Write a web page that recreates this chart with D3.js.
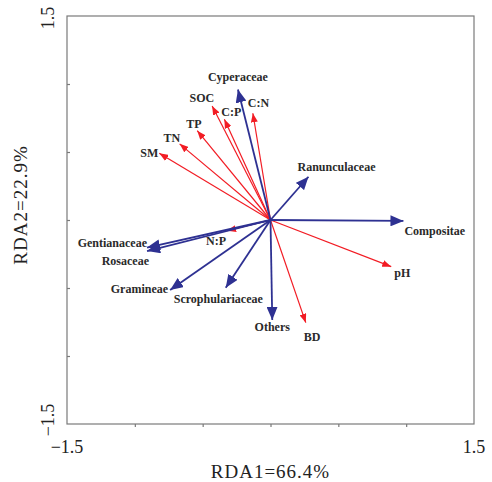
<!DOCTYPE html>
<html>
<head>
<meta charset="utf-8">
<script src="https://cdn.jsdelivr.net/npm/d3@7"></script>
<style>
  body { margin: 0; background: #fff; }
  svg { display: block; }
</style>
</head>
<body>
<div id="chart"></div>
<script>
// soil / environment variables (red arrows)
const envNames = ['SOC', 'C:P', 'C:N', 'TP', 'TN', 'SM', 'N:P', 'pH', 'BD'];
const envRDA1 = [-0.43, -0.34, -0.13, -0.54, -0.67, -0.82, -0.32, 0.89, 0.26];
const envRDA2 = [0.838, 0.74, 0.785, 0.657, 0.56, 0.49, -0.079, -0.343, -0.755];

// plant families (blue arrows)
const spNames = ['Cyperaceae', 'Ranunculaceae', 'Compositae', 'Others', 'Scrophulariaceae',
                 'Gramineae', 'Gentianaceae', 'Rosaceae'];
const spRDA1 = [-0.24, 0.28, 0.98, 0.013, -0.33, -0.74, -0.91, -0.91];
const spRDA2 = [0.96, 0.318, -0.007, -0.735, -0.498, -0.515, -0.203, -0.228];

const axisTicks = [-1, -0.5, 0, 0.5, 1];
const axisDomain = [-1.5, 1.5];
const xTitle = 'RDA1=66.4%';
const yTitle = 'RDA2=22.9%';

// label placement relative to arrow tip (px): [dx, dy, anchor]
const labelPos = {
    'SOC': [2, -4, 'end'], 'C:P': [-3, -3, 'start'], 'C:N': [-5, -6, 'start'],
    'TP': [-11, -3, 'start'], 'TN': [-16, -2, 'start'], 'SM': [-19, 4, 'start'],
    'N:P': [-21, 14, 'start'], 'pH': [3, 10, 'start'], 'BD': [-2, 18, 'start'],
    'Cyperaceae': [0, -8, 'middle'], 'Ranunculaceae': [-11, -6, 'start'],
    'Compositae': [1, 14, 'start'], 'Others': [0, 11, 'middle'],
    'Scrophulariaceae': [-52, 15, 'start'], 'Gramineae': [-2, 3, 'end'],
    'Gentianaceae': [0, -1, 'end'], 'Rosaceae': [2, 14, 'end']
};

const W = 492, H = 482;
const RED = '#f21c24', BLUE = '#2e3192';

const svg = d3.select('#chart').append('svg')
    .attr('width', W).attr('height', H);

const x = d3.scaleLinear().domain(axisDomain).range([67, 474]);
const y = d3.scaleLinear().domain(axisDomain).range([424, 16]);

// arrow heads
const defs = svg.append('defs');
function head(id, color, len, wid) {
    defs.append('marker')
        .attr('id', id)
        .attr('markerUnits', 'userSpaceOnUse')
        .attr('viewBox', `0 ${-wid / 2} ${len} ${wid}`)
        .attr('refX', len).attr('refY', 0)
        .attr('markerWidth', len).attr('markerHeight', wid)
        .attr('orient', 'auto')
        .append('path')
        .attr('d', `M0,${-wid / 2}L${len},0L0,${wid / 2}Z`)
        .attr('fill', color);
}
head('hr', RED, 9, 7);
head('hb', BLUE, 13, 11);

// frame
svg.append('rect')
    .attr('x', x(-1.5)).attr('y', y(1.5))
    .attr('width', x(1.5) - x(-1.5)).attr('height', y(-1.5) - y(1.5))
    .attr('fill', 'none').attr('stroke', '#7a7a7a').attr('stroke-width', 1.2);

const gx = svg.append('g')
    .attr('transform', `translate(0,${y(-1.5)})`)
    .call(d3.axisBottom(x).tickValues(axisTicks).tickSizeInner(3).tickSizeOuter(0).tickFormat(''));
const gy = svg.append('g')
    .attr('transform', `translate(${x(-1.5)},0)`)
    .call(d3.axisLeft(y).tickValues(axisTicks).tickSizeInner(-3).tickSizeOuter(0).tickFormat(''));
[gx, gy].forEach(g => {
    g.select('.domain').remove();
    g.selectAll('line').attr('stroke', '#7a7a7a').attr('stroke-width', 1.2);
});

// tick labels at the ends
const serif = '"Liberation Serif", "Times New Roman", serif';
svg.append('text').attr('x', x(-1.5)).attr('y', 453)
    .attr('text-anchor', 'middle').style('font', `18px ${serif}`).attr('fill', '#222')
    .text('\u22121.5');
svg.append('text').attr('x', x(1.5)).attr('y', 453)
    .attr('text-anchor', 'middle').style('font', `18px ${serif}`).attr('fill', '#222')
    .text('1.5');
svg.append('text').attr('transform', `translate(54,${y(1.5) + 2}) rotate(-90)`)
    .attr('text-anchor', 'middle').style('font', `18px ${serif}`).attr('fill', '#222')
    .text('1.5');
svg.append('text').attr('transform', `translate(54,${y(-1.5) - 4}) rotate(-90)`)
    .attr('text-anchor', 'middle').style('font', `18px ${serif}`).attr('fill', '#222')
    .text('\u22121.5');

// axis titles
svg.append('text').attr('x', (x(-1.5) + x(1.5)) / 2).attr('y', 478)
    .attr('text-anchor', 'middle').style('font', `19px ${serif}`)
    .style('letter-spacing', '1px').attr('fill', '#222')
    .text(xTitle);
svg.append('text').attr('transform', `translate(27,${y(0) - 15}) rotate(-90)`)
    .attr('text-anchor', 'middle').style('font', `19px ${serif}`)
    .style('letter-spacing', '1px').attr('fill', '#222')
    .text(yTitle);

// arrows
const env = envNames.map((n, i) => ({ name: n, a: envRDA1[i], b: envRDA2[i] }));
const sp = spNames.map((n, i) => ({ name: n, a: spRDA1[i], b: spRDA2[i] }));

function drawArrows(data, color, width, marker) {
    const g = svg.append('g');
    g.selectAll('line')
        .data(data)
        .enter()
        .append('line')
        .attr('x1', x(0)).attr('y1', y(0))
        .attr('x2', d => x(d.a)).attr('y2', d => y(d.b))
        .attr('stroke', color).attr('stroke-width', width)
        .attr('marker-end', `url(#${marker})`);
}
drawArrows(env, RED, 1.2, 'hr');
drawArrows(sp, BLUE, 1.8, 'hb');

// labels
svg.append('g')
    .selectAll('text')
    .data(env.concat(sp))
    .enter()
    .append('text')
    .attr('x', d => x(d.a) + labelPos[d.name][0])
    .attr('y', d => y(d.b) + labelPos[d.name][1])
    .attr('text-anchor', d => labelPos[d.name][2])
    .style('font', `bold 12px ${serif}`)
    .attr('fill', '#2a2a2a')
    .text(d => d.name);
</script>
</body>
</html>
